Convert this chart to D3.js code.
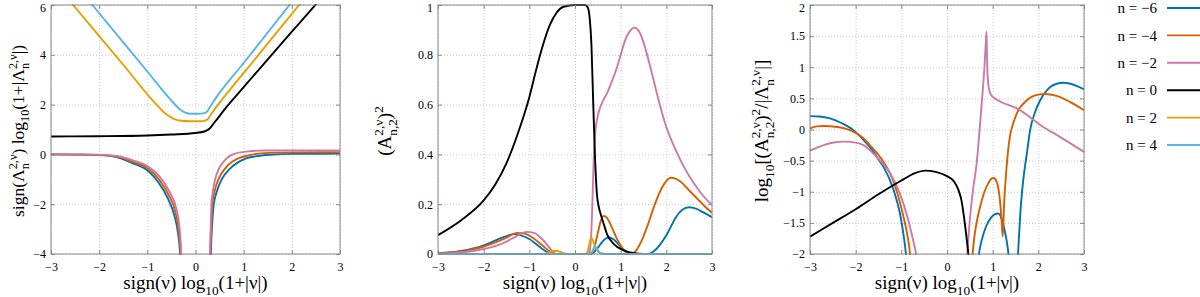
<!DOCTYPE html>
<html>
<head>
<meta charset="utf-8">
<script src="https://cdn.jsdelivr.net/npm/d3@7"></script>
<style>
  body { margin: 0; background: #fff; }
  text { font-family: "Liberation Serif", "Times New Roman", serif; fill: #000; }
</style>
</head>
<body>
<svg id="chart" width="1200" height="297"></svg>
<script>
const xTicks = [-3, -2, -1, 0, 1, 2, 3];
const seriesNames = ["n = \u22126", "n = \u22124", "n = \u22122", "n = 0", "n = 2", "n = 4"];
const seriesColors = ["#0072b2", "#d55e00", "#cc79a7", "#000000", "#e69f00", "#56b4e9"];

// panel 1: sign(Lambda) log10(1+|Lambda|), null = break at the asymptote
const eig_m6 = [[-3,0],[-2.5,-0.01],[-2,-0.03],[-1.6,-0.13],[-1.3,-0.36],[-1,-0.64],[-0.78,-1.1],[-0.58,-1.75],[-0.44,-2.45],[-0.36,-3.2],[-0.32,-4.0],[-0.305,-5],
  [0,null],
  [0.315,-5],[0.32,-4],[0.34,-3],[0.38,-2],[0.45,-1.45],[0.55,-0.98],[0.7,-0.6],[0.89,-0.31],[1.05,-0.16],[1.24,-0.08],[1.6,-0.01],[2,0.02],[3,0.03]];
const eig_m4 = [[-3,0],[-2.5,-0.008],[-2,-0.02],[-1.6,-0.1],[-1.3,-0.3],[-1,-0.55],[-0.76,-1.0],[-0.56,-1.62],[-0.42,-2.3],[-0.345,-3.1],[-0.31,-3.9],[-0.295,-5],
  [0,null],
  [0.305,-5],[0.31,-4],[0.325,-3],[0.35,-2],[0.4,-1.45],[0.48,-0.98],[0.6,-0.6],[0.75,-0.31],[0.9,-0.15],[1.1,-0.04],[1.5,0.06],[2,0.08],[3,0.09]];
const eig_m2 = [[-3,0],[-2.5,-0.005],[-2,-0.01],[-1.6,-0.07],[-1.3,-0.24],[-1,-0.47],[-0.74,-0.9],[-0.54,-1.5],[-0.4,-2.17],[-0.33,-2.98],[-0.3,-3.8],[-0.285,-5],
  [0,null],
  [0.295,-5],[0.3,-4],[0.315,-3],[0.33,-2],[0.36,-1.5],[0.41,-0.98],[0.48,-0.6],[0.575,-0.31],[0.7,-0.08],[0.82,0.03],[1.1,0.12],[1.4,0.155],[2,0.16],[3,0.16]];
const eig_0 = [[-3,0.72],[-2,0.73],[-1,0.76],[-0.5,0.8],[0,0.86],[0.2,0.93],[0.3,1.05],[0.36,1.2],[0.45,1.42],[0.6,1.8],[1,2.7],[1.5,3.82],[2,4.93],[2.53,6.1],[2.7,6.5]];
const eig_2 = [[-2.7,6.37],[-2.54,6],[-1.5,3.6],[-0.8,1.98],[-0.6,1.6],[-0.45,1.43],[-0.3,1.35],[-0.1,1.33],[0.1,1.33],[0.2,1.36],[0.27,1.45],[0.33,1.62],[0.4,1.82],[0.47,2.0],[1.3,3.98],[2.15,6],[2.3,6.36]];
const eig_4 = [[-2.3,6.37],[-2.14,6],[-1,3.33],[-0.5,2.16],[-0.4,1.95],[-0.3,1.77],[-0.2,1.67],[-0.1,1.635],[0.05,1.63],[0.18,1.66],[0.25,1.74],[0.3,1.9],[0.35,2.05],[0.4,2.2],[1,3.67],[1.95,6],[2.1,6.37]];

// panel 2: (A_{n,2})^2
const amp_m6 = [[-3,0.003],[-2.5,0.012],[-2,0.035],[-1.7,0.058],[-1.5,0.072],[-1.34,0.08],[-1.2,0.076],[-1,0.06],[-0.8,0.032],[-0.65,0.012],[-0.55,0.002],[-0.5,0],[0.35,0],[0.42,0.008],[0.5,0.025],[0.58,0.045],[0.66,0.06],[0.74,0.066],[0.85,0.058],[0.95,0.04],[1.05,0.02],[1.15,0.006],[1.28,0],[1.6,0],[1.72,0.01],[1.85,0.035],[2,0.075],[2.1,0.11],[2.2,0.145],[2.35,0.178],[2.5,0.188],[2.65,0.182],[2.8,0.168],[3,0.148]];
const amp_m4 = [[-3,0.002],[-2.5,0.01],[-2,0.03],[-1.7,0.05],[-1.5,0.066],[-1.27,0.085],[-1.1,0.082],[-0.9,0.062],[-0.7,0.032],[-0.55,0.01],[-0.45,0.001],[-0.4,0],[0.3,0],[0.37,0.005],[0.43,0.03],[0.5,0.085],[0.56,0.13],[0.63,0.153],[0.7,0.145],[0.8,0.11],[0.9,0.068],[1,0.034],[1.1,0.01],[1.22,0],[1.32,0.01],[1.45,0.05],[1.6,0.12],[1.75,0.2],[1.9,0.265],[2.1,0.306],[2.3,0.292],[2.5,0.255],[2.7,0.218],[2.85,0.19],[3,0.166]];
const amp_m2 = [[-3,0.001],[-2.5,0.006],[-2,0.02],[-1.7,0.035],[-1.5,0.05],[-1.3,0.07],[-1.05,0.089],[-0.9,0.085],[-0.75,0.065],[-0.6,0.035],[-0.5,0.012],[-0.43,0.001],[-0.4,0],[0.3,0],[0.32,0.01],[0.35,0.06],[0.38,0.2],[0.41,0.38],[0.45,0.5],[0.52,0.57],[0.6,0.61],[0.7,0.645],[0.8,0.69],[0.92,0.75],[1,0.8],[1.1,0.86],[1.2,0.895],[1.3,0.909],[1.4,0.895],[1.5,0.85],[1.65,0.75],[1.8,0.64],[2,0.51],[2.2,0.42],[2.4,0.345],[2.6,0.285],[2.8,0.235],[3,0.197]];
const amp_0 = [[-3,0.076],[-2.5,0.135],[-2,0.215],[-1.75,0.278],[-1.5,0.365],[-1.25,0.485],[-1,0.63],[-0.85,0.74],[-0.7,0.84],[-0.55,0.92],[-0.4,0.97],[-0.25,0.993],[0,1],[0.22,1],[0.28,0.99],[0.32,0.95],[0.36,0.84],[0.4,0.6],[0.44,0.38],[0.48,0.24],[0.52,0.19],[0.58,0.15],[0.63,0.12],[0.7,0.08],[0.85,0.04],[1.07,0.015],[1.3,0.003],[1.5,0],[3,0]];
const amp_2 = [[-3,0],[-0.7,0],[-0.62,0.002],[-0.55,0.006],[-0.47,0.012],[-0.4,0.013],[-0.32,0.008],[-0.24,0.002],[-0.15,0],[0.22,0],[0.27,0.006],[0.31,0.035],[0.35,0.065],[0.38,0.06],[0.42,0.04],[0.47,0.018],[0.52,0.007],[0.6,0.001],[0.7,0],[3,0]];
const amp_4 = [[-3,0],[0.32,0],[0.38,0.01],[0.43,0.028],[0.47,0.025],[0.52,0.01],[0.58,0.002],[0.65,0],[3,0]];

// panel 3: log10[(A_{n,2})^2/|Lambda|]
const rat_m6 = [[-3,0.215],[-2.8,0.21],[-2.56,0.18],[-2.3,0.1],[-2.05,-0.01],[-1.85,-0.15],[-1.69,-0.28],[-1.5,-0.48],[-1.39,-0.6],[-1.17,-0.97],[-1.03,-1.35],[-0.95,-1.7],[-0.9,-2.0],[-0.87,-2.3],
  [0,null],
  [0.66,-2.3],[0.7,-2.0],[0.77,-1.75],[0.86,-1.55],[0.96,-1.42],[1.05,-1.36],[1.12,-1.35],[1.2,-1.44],[1.27,-1.65],[1.33,-1.9],[1.37,-2.2],
  [1.45,null],
  [1.54,-2.2],[1.57,-1.8],[1.61,-1.3],[1.67,-0.81],[1.75,-0.38],[1.82,-0.01],[1.92,0.26],[2.04,0.47],[2.2,0.64],[2.4,0.735],[2.55,0.75],[2.7,0.735],[2.85,0.695],[3,0.645]];
const rat_m4 = [[-3,0.02],[-2.85,0.05],[-2.71,0.056],[-2.4,0.04],[-2.05,-0.035],[-1.85,-0.13],[-1.69,-0.25],[-1.39,-0.52],[-1.17,-0.84],[-0.99,-1.29],[-0.88,-1.65],[-0.81,-2.0],[-0.78,-2.3],
  [0,null],
  [0.53,-2.3],[0.56,-2.0],[0.6,-1.72],[0.66,-1.45],[0.74,-1.2],[0.82,-1.0],[0.9,-0.87],[0.96,-0.8],[1.02,-0.78],[1.08,-0.83],[1.14,-1.02],[1.19,-1.4],[1.22,-1.72],[1.25,-1.2],[1.3,-0.65],[1.38,-0.1],[1.45,0.1],[1.53,0.26],[1.75,0.47],[2,0.56],[2.15,0.57],[2.4,0.54],[2.7,0.44],[3,0.31]];
const rat_m2 = [[-3,-0.34],[-2.7,-0.25],[-2.45,-0.205],[-2.27,-0.195],[-2,-0.21],[-1.83,-0.25],[-1.54,-0.44],[-1.25,-0.7],[-1.03,-1.03],[-0.85,-1.45],[-0.72,-1.85],[-0.68,-2.0],[-0.65,-2.3],
  [0,null],
  [0.42,-2.3],[0.44,-2.05],[0.5,-1.45],[0.57,-0.97],[0.65,-0.54],[0.72,0.05],[0.78,0.6],[0.82,1.0],[0.85,1.4],[0.865,1.57],[0.875,1.2],[0.89,0.85],[0.92,0.65],[0.97,0.55],[1.05,0.5],[1.16,0.45],[1.53,0.34],[2.1,0.045],[2.5,-0.13],[3,-0.36]];
const rat_0 = [[-3,-1.72],[-2.5,-1.5],[-2,-1.28],[-1.5,-1.04],[-1,-0.82],[-0.7,-0.7],[-0.48,-0.66],[-0.25,-0.68],[0,-0.75],[0.15,-0.83],[0.25,-0.97],[0.32,-1.15],[0.38,-1.45],[0.43,-1.75],[0.48,-2.1],[0.5,-2.3]];

const plotTop = 5, plotBottom = 254;
const minus = v => (v < 0 ? "\u2212" : "") + Math.abs(v);
const serif = '"Liberation Serif", "Times New Roman", serif';

// rich label parts: [text, kind] with kind "", "sub", "sup" or "stack" (sup over sub)
const xLabel = [["sign(\u03bd) log",""],["10","sub"],["(1+|\u03bd|)",""]];
const yLabel1 = [["sign(\u039b",""],[["2,\u03bd","n"],"stack"],[") log",""],["10","sub"],["(1+|\u039b",""],[["2,\u03bd","n"],"stack"],["|)",""]];
const yLabel2 = [["(A",""],[["2,\u03bd","n,2"],"stack"],[")",""],["2","sup"]];
const yLabel3 = [["log",""],["10","sub"],["[(A",""],[["2,\u03bd","n,2"],"stack"],[")",""],["2","sup"],["/|\u039b",""],[["2,\u03bd","n"],"stack"],["|]",""]];

const panels = [
  { left: 51, right: 340, yDomain: [-4, 6], yTicks: [-4, -2, 0, 2, 4, 6], series: [eig_m6, eig_m4, eig_m2, eig_0, eig_2, eig_4], colors: [0, 1, 2, 3, 4, 5], yLabel: yLabel1, yLabelX: 24, yLabelSize: 17.5 },
  { left: 438, right: 712, yDomain: [0, 1], yTicks: [0, 0.2, 0.4, 0.6, 0.8, 1], series: [amp_m6, amp_m4, amp_m2, amp_0, amp_2, amp_4], colors: [0, 1, 2, 3, 4, 5], yLabel: yLabel2, yLabelX: 391, yLabelSize: 19 },
  { left: 810, right: 1084, yDomain: [-2, 2], yTicks: [-2, -1.5, -1, -0.5, 0, 0.5, 1, 1.5, 2], series: [rat_m6, rat_m4, rat_m2, rat_0], colors: [0, 1, 2, 3], yLabel: yLabel3, yLabelX: 768, yLabelSize: 19 }
];

const svg = d3.select("#chart");

function richText(g, parts, size) {
  const t = g.append("text").attr("font-size", size).attr("text-anchor", "middle").attr("font-family", serif);
  let off = 0, pendingDx = 0;
  const small = size * 0.7;
  parts.forEach(([txt, kind]) => {
    if (kind === "") {
      t.append("tspan").text(txt).attr("dy", -off).attr("dx", pendingDx);
      off = 0; pendingDx = 0;
    } else if (kind === "sub" || kind === "sup") {
      const target = kind === "sub" ? size * 0.3 : -size * 0.4;
      t.append("tspan").text(txt).attr("font-size", small).attr("dy", target - off).attr("dx", pendingDx);
      off = target; pendingDx = 0;
    } else {
      const [sup, sub] = txt;
      const s1 = t.append("tspan").text(sup).attr("font-size", small).attr("dy", -size * 0.4 - off).attr("dx", pendingDx);
      const w1 = s1.node().getComputedTextLength();
      const s2 = t.append("tspan").text(sub).attr("font-size", small).attr("dy", size * 0.7).attr("dx", -w1);
      const w2 = s2.node().getComputedTextLength();
      off = size * 0.3; pendingDx = Math.max(0, w1 - w2);
    }
  });
  return t;
}

panels.forEach((p, pi) => {
  const x = d3.scaleLinear().domain([-3, 3]).range([p.left, p.right]);
  const y = d3.scaleLinear().domain(p.yDomain).range([plotBottom, plotTop]);
  const g = svg.append("g");

  // dotted grid
  g.append("g").attr("transform", `translate(0,${plotBottom})`)
    .call(d3.axisBottom(x).tickValues(xTicks).tickSize(-(plotBottom - plotTop)).tickFormat(""))
    .call(a => a.select(".domain").remove())
    .selectAll("line").attr("stroke", "#c8c8c8").attr("stroke-dasharray", "1,2");
  g.append("g").attr("transform", `translate(${p.left},0)`)
    .call(d3.axisLeft(y).tickValues(p.yTicks).tickSize(-(p.right - p.left)).tickFormat(""))
    .call(a => a.select(".domain").remove())
    .selectAll("line").attr("stroke", "#c8c8c8").attr("stroke-dasharray", "1,2");

  const clipId = "clip" + pi;
  svg.append("clipPath").attr("id", clipId).append("rect")
    .attr("x", p.left).attr("y", plotTop - 1).attr("width", p.right - p.left).attr("height", plotBottom - plotTop + 2);

  const line = d3.line()
    .defined(d => d[1] !== null)
    .x(d => x(d[0])).y(d => y(d[1]))
    .curve(d3.curveMonotoneX);

  g.append("g").attr("clip-path", `url(#${clipId})`)
    .selectAll("path").data(p.series).join("path")
    .attr("d", line)
    .attr("fill", "none")
    .attr("stroke", (d, i) => seriesColors[p.colors[i]])
    .attr("stroke-width", 1.9)
    .attr("stroke-linejoin", "round");

  // inward ticks on all four sides
  const styleAxis = a => {
    a.attr("font-family", serif).attr("font-size", 12);
    a.select(".domain").remove();
    a.selectAll("line").attr("stroke", "#888");
    a.selectAll("text").attr("fill", "#000");
  };
  g.append("g").attr("transform", `translate(0,${plotBottom})`)
    .call(d3.axisBottom(x).tickValues(xTicks).tickSize(-4).tickPadding(8).tickFormat(minus)).call(styleAxis);
  g.append("g").attr("transform", `translate(0,${plotTop})`)
    .call(d3.axisTop(x).tickValues(xTicks).tickSize(-4).tickFormat("")).call(styleAxis);
  g.append("g").attr("transform", `translate(${p.left},0)`)
    .call(d3.axisLeft(y).tickValues(p.yTicks).tickSize(-4).tickPadding(5).tickFormat(minus)).call(styleAxis)
    .selectAll("text").attr("dy", d => d === p.yDomain[1] ? "0.5em" : "0.32em");
  g.append("g").attr("transform", `translate(${p.right},0)`)
    .call(d3.axisRight(y).tickValues(p.yTicks).tickSize(-4).tickFormat("")).call(styleAxis);

  g.append("rect").attr("x", p.left).attr("y", plotTop)
    .attr("width", p.right - p.left).attr("height", plotBottom - plotTop)
    .attr("fill", "none").attr("stroke", "#888").attr("stroke-width", 1);

  // axis titles
  const xg = g.append("g").attr("transform", `translate(${(p.left + p.right) / 2},289)`);
  richText(xg, xLabel, 19);
  const yg = g.append("g").attr("transform", `translate(${p.yLabelX},131) rotate(-90)`);
  richText(yg, p.yLabel, p.yLabelSize);
});

// legend
const legend = svg.append("g");
seriesNames.forEach((name, i) => {
  const cy = 8 + i * 27.4;
  legend.append("text").attr("x", 1157).attr("y", cy).attr("dy", "0.35em")
    .attr("text-anchor", "end").attr("font-size", 15).attr("font-family", serif).text(name);
  legend.append("line").attr("x1", 1167).attr("x2", 1202).attr("y1", cy).attr("y2", cy)
    .attr("stroke", seriesColors[i]).attr("stroke-width", 1.9);
});
</script>
</body>
</html>
